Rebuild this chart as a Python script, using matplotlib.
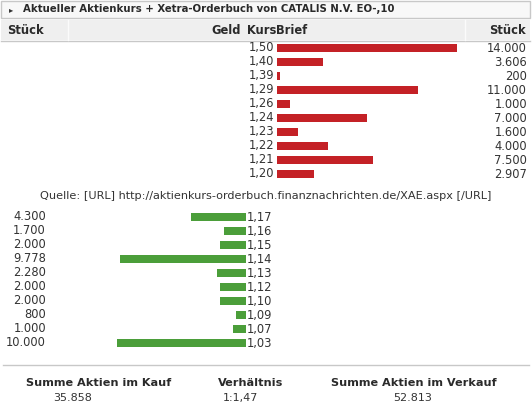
import matplotlib
matplotlib.use("Agg")
import matplotlib.pyplot as plt
from matplotlib.patches import Rectangle

# Orderbuch-Daten
ask_kurs = ["1,50", "1,40", "1,39", "1,29", "1,26", "1,24", "1,23", "1,22", "1,21", "1,20"]
ask_stueck = [14000, 3606, 200, 11000, 1000, 7000, 1600, 4000, 7500, 2907]
bid_kurs = ["1,17", "1,16", "1,15", "1,14", "1,13", "1,12", "1,10", "1,09", "1,07", "1,03"]
bid_stueck = [4300, 1700, 2000, 9778, 2280, 2000, 2000, 800, 1000, 10000]

titel = "Aktueller Aktienkurs + Xetra-Orderbuch von CATALIS N.V. EO-,10"
quelle = "Quelle: [URL] http://aktienkurs-orderbuch.finanznachrichten.de/XAE.aspx [/URL]"
summe_kauf = "35.858"
verhaeltnis = "1:1,47"
summe_verkauf = "52.813"


def fmt(n):
    return f"{n:,}".replace(",", ".")


W, H = 532, 416
fig = plt.figure(figsize=(W / 100, H / 100), dpi=100)
ax = fig.add_axes([0, 0, 1, 1])
ax.set_xlim(0, W)
ax.set_ylim(H, 0)
ax.axis("off")

txt = "#333333"
dark = "#2a2a2a"
fs = 8.3
plt.rcParams["font.family"] = ["DejaVu Sans"]

# Titelkasten
ax.add_patch(Rectangle((1, 0.5), 529, 17, facecolor="#f8f8f8", edgecolor="#c8c8c8", lw=1))
ax.text(9, 9.5, "\u25b8", fontsize=6, color=txt, va="center")
ax.text(23, 9.5, titel, fontsize=7.3, fontweight="bold", color=dark, va="center")

# Kopfzeile
ax.add_patch(Rectangle((1, 20), 529, 20, facecolor="#efefef", edgecolor="none"))
ax.plot([1, 530], [40.5, 40.5], color="#c8c8c8", lw=1)
for xs in [68, 465]:
    ax.plot([xs, xs], [20, 40], color="#fbfbfb", lw=1)
ax.text(7, 30, "Stück", fontsize=8.3, fontweight="bold", color=dark, va="center")
ax.text(241, 30, "Geld", fontsize=8.3, fontweight="bold", color=dark, va="center", ha="right")
ax.text(247, 30, "Kurs", fontsize=8.3, fontweight="bold", color=dark, va="center")
ax.text(276, 30, "Brief", fontsize=8.3, fontweight="bold", color=dark, va="center")
ax.text(526, 30, "Stück", fontsize=8.3, fontweight="bold", color=dark, va="center", ha="right")

scale = 180 / 14000
bh = 8

# Verkaufsseite
ask_y = [48 + 14 * i for i in range(len(ask_stueck))]
ax.barh(ask_y, [v * scale for v in ask_stueck], left=277, height=bh, color="#c42126")
for y, k, v in zip(ask_y, ask_kurs, ask_stueck):
    ax.text(274, y, k, fontsize=fs, color=txt, va="center", ha="right")
    ax.text(527, y, fmt(v), fontsize=fs, color=txt, va="center", ha="right")

ax.text(266, 196, quelle, fontsize=8.1, color=txt, va="center", ha="center")

# Kaufseite
bid_y = [217 + 14 * i for i in range(len(bid_stueck))]
ax.barh(bid_y, [-v * scale for v in bid_stueck], left=246, height=bh, color="#4b9e3a")
for y, k, v in zip(bid_y, bid_kurs, bid_stueck):
    ax.text(247, y, k, fontsize=fs, color=txt, va="center")
    ax.text(46, y, fmt(v), fontsize=fs, color=txt, va="center", ha="right")

# Zusammenfassung
ax.plot([3, 529], [364.5, 364.5], color="#c8c8c8", lw=1)
ax.text(99, 383, "Summe Aktien im Kauf", fontsize=8.15, fontweight="bold", color=dark, va="center", ha="center")
ax.text(53, 398, summe_kauf, fontsize=8.0, color=txt, va="center")
ax.text(251, 383, "Verhältnis", fontsize=8.15, fontweight="bold", color=dark, va="center", ha="center")
ax.text(223, 398, verhaeltnis, fontsize=8.0, color=txt, va="center")
ax.text(414, 383, "Summe Aktien im Verkauf", fontsize=8.15, fontweight="bold", color=dark, va="center", ha="center")
ax.text(413, 398, summe_verkauf, fontsize=8.0, color=txt, va="center", ha="center")

fig.savefig("out.png", dpi=100)
